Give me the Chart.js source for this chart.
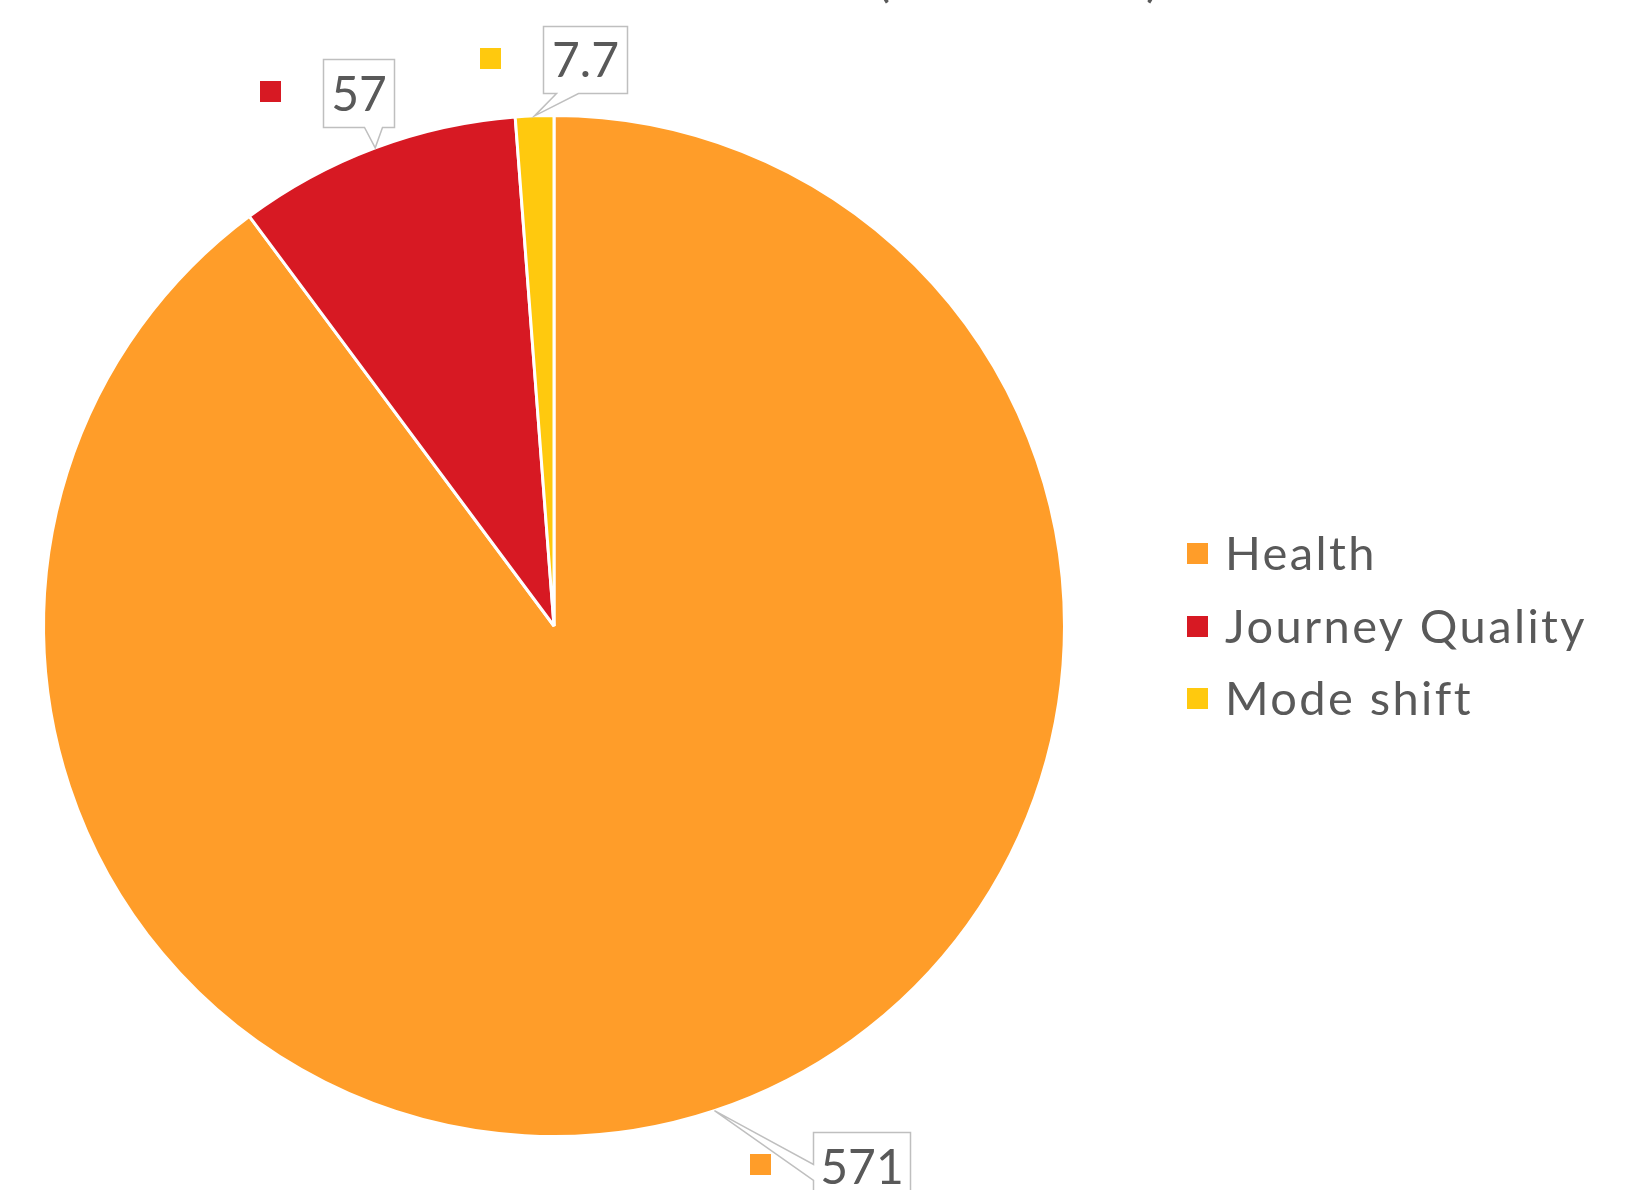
<!DOCTYPE html>
<html>
<head>
<meta charset="utf-8">
<script src="https://cdn.jsdelivr.net/npm/chart.js@4/dist/chart.umd.min.js"></script>
<style>
  html, body { margin: 0; padding: 0; background: #ffffff; }
  canvas { display: block; }
</style>
</head>
<body>
<canvas id="benefits-chart" width="1630" height="1190"></canvas>
<script>
// chart data
const categories = ['Health', 'Journey Quality', 'Mode shift'];
const benefitValues = [571, 57, 7.7];
const valueLabels = ['571', '57', '7.7'];
const sliceColors = ['#FF9D29', '#D71923', '#FFC90E'];

const textColor = '#595959';
const fontFamily = 'Lato, "Open Sans", sans-serif';

// where each callout box sits relative to the slice's outer mid point
const calloutLayout = [
  { dx: 99, dy: 21, w: 97, h: 68, side: 'left', from: 32, to: 48 },
  { dx: -52, dy: -89, w: 71, h: 68, side: 'bottom', from: 41, to: 59 },
  { dx: 8, dy: -90, w: 84, h: 67, side: 'bottom', from: 13, to: 35 }
];

// title sits mostly above the canvas, only the bracket tails show
const titlePlugin = {
  id: 'clippedTitle',
  afterDraw(chart) {
    const c = chart.ctx;
    c.save();
    c.font = '50px ' + fontFamily;
    c.fillStyle = textColor;
    c.textBaseline = 'alphabetic';
    const y = -4;
    c.textAlign = 'right';
    c.fillText('Benefits (', 890, y);
    c.textAlign = 'center';
    c.fillText('£ millions', 1020, y);
    c.textAlign = 'left';
    c.fillText(')', 1146, y);
    c.restore();
  }
};

// value callouts with a small colour key next to each
const calloutPlugin = {
  id: 'callouts',
  afterDatasetsDraw(chart) {
    const c = chart.ctx;
    const arcs = chart.getDatasetMeta(0).data;
    c.save();
    arcs.forEach((arc, i) => {
      const p = arc.getProps(['x', 'y', 'startAngle', 'endAngle', 'outerRadius'], true);
      const mid = (p.startAngle + p.endAngle) / 2;
      const ax = p.x + Math.cos(mid) * p.outerRadius;
      const ay = p.y + Math.sin(mid) * p.outerRadius;
      const L = calloutLayout[i];
      const bx = Math.round(ax + L.dx) + 0.5;
      const by = Math.round(ay + L.dy) + 0.5;

      c.beginPath();
      if (L.side === 'bottom') {
        c.moveTo(bx, by);
        c.lineTo(bx + L.w, by);
        c.lineTo(bx + L.w, by + L.h);
        c.lineTo(bx + L.to, by + L.h);
        c.lineTo(ax, ay);
        c.lineTo(bx + L.from, by + L.h);
        c.lineTo(bx, by + L.h);
      } else {
        c.moveTo(bx, by);
        c.lineTo(bx + L.w, by);
        c.lineTo(bx + L.w, by + L.h);
        c.lineTo(bx, by + L.h);
        c.lineTo(bx, by + L.to);
        c.lineTo(ax, ay);
        c.lineTo(bx, by + L.from);
      }
      c.closePath();
      c.fillStyle = '#ffffff';
      c.fill();
      c.strokeStyle = '#BFBFBF';
      c.lineWidth = 1.5;
      c.stroke();

      c.fillStyle = textColor;
      c.font = '48px ' + fontFamily;
      c.textAlign = 'center';
      c.textBaseline = 'alphabetic';
      c.fillText(valueLabels[i], bx + L.w / 2, by + L.h / 2 + 17);

      c.fillStyle = sliceColors[i];
      c.fillRect(Math.round(bx - 64), Math.round(by + 21), 21, 21);
    });
    c.restore();
  }
};

// legend on the right
const legendPlugin = {
  id: 'sideLegend',
  afterDraw(chart) {
    const c = chart.ctx;
    const rows = [553, 626, 698];
    c.save();
    c.font = '47px ' + fontFamily;
    c.letterSpacing = '2.4px';
    c.textAlign = 'left';
    c.textBaseline = 'alphabetic';
    chart.data.labels.forEach((label, i) => {
      c.fillStyle = sliceColors[i];
      c.fillRect(1187, rows[i] - 10, 21, 21);
      c.fillStyle = textColor;
      c.fillText(label, 1225, rows[i] + 17);
    });
    c.restore();
  }
};

const ctx = document.getElementById('benefits-chart').getContext('2d');
new Chart(ctx, {
  type: 'pie',
  data: {
    labels: categories,
    datasets: [{
      data: benefitValues,
      backgroundColor: sliceColors,
      borderColor: '#ffffff',
      borderWidth: 3,
      hoverOffset: 0
    }]
  },
  options: {
    responsive: false,
    animation: false,
    devicePixelRatio: 1,
    layout: { padding: { left: 42, right: 564, top: 114, bottom: 52 } },
    plugins: {
      legend: { display: false },
      tooltip: { enabled: false }
    }
  },
  plugins: [calloutPlugin, legendPlugin, titlePlugin]
});
</script>
</body>
</html>
